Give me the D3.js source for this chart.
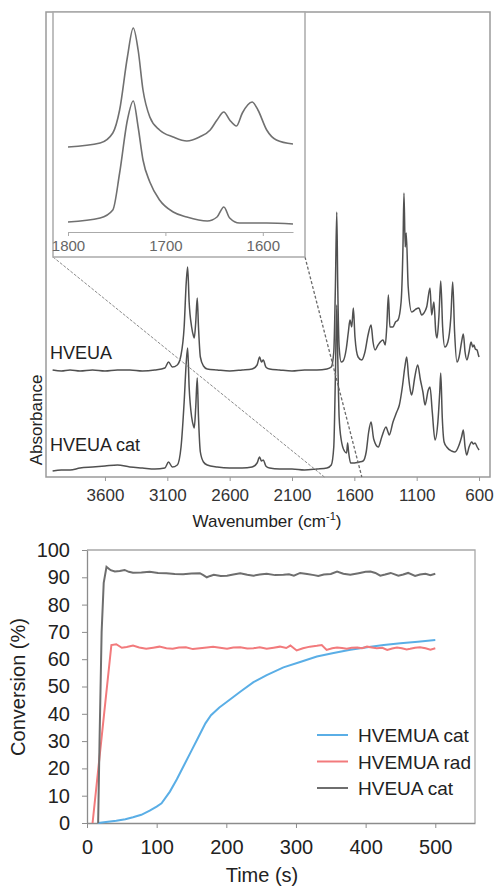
<!DOCTYPE html>
<html>
<head>
<meta charset="utf-8">
<script src="https://cdn.jsdelivr.net/npm/d3@7"></script>
<style>
  body { margin: 0; background: #fff; }
  svg { display: block; font-family: "Liberation Sans", Arial, sans-serif; }
</style>
</head>
<body>
<div id="chart"></div>
<script>
// ---- IR spectra (wavenumber cm-1, absorbance a.u.) ----
const hveua = [[4020,1.07],[3950,1.06],[3880,1.07],[3800,1.06],[3700,1.07],[3600,1.06],[3500,1.07],[3400,1.07],
  [3300,1.06],[3200,1.07],[3120,1.09],[3090,1.15],[3060,1.10],[3020,1.12],[2990,1.22],[2965,1.5],[2948,1.95],
  [2937,2.10],[2925,1.75],[2905,1.5],[2890,1.41],[2884,1.39],[2872,1.55],[2860,1.79],[2850,1.5],[2835,1.2],
  [2810,1.11],[2780,1.08],[2700,1.07],[2600,1.06],[2500,1.07],[2420,1.08],[2380,1.12],[2360,1.20],[2345,1.15],
  [2330,1.17],[2310,1.10],[2280,1.08],[2200,1.07],[2100,1.06],[2000,1.07],[1900,1.07],[1820,1.08],[1785,1.10],
  [1765,1.25],[1752,1.9],[1741,2.65],[1733,1.9],[1722,1.3],[1705,1.15],[1690,1.16],[1665,1.28],[1648,1.45],
  [1635,1.57],[1621,1.50],[1608,1.69],[1595,1.4],[1570,1.2],[1541,1.17],[1515,1.25],[1490,1.42],[1466,1.52],
  [1450,1.35],[1434,1.27],[1410,1.32],[1370,1.37],[1352,1.32],[1340,1.5],[1327,1.82],[1315,1.5],[1290,1.50],
  [1270,1.55],[1250,1.57],[1225,1.75],[1210,2.3],[1202,2.84],[1192,2.3],[1184,2.44],[1168,1.9],[1140,1.65],
  [1125,1.66],[1105,1.68],[1083,1.69],[1060,1.62],[1042,1.64],[1020,1.70],[993,1.89],[980,1.62],[962,1.75],
  [947,1.45],[937,1.39],[922,1.6],[907,1.96],[892,1.5],[874,1.30],[850,1.35],[826,1.6],[811,1.95],[796,1.45],
  [777,1.15],[760,1.2],[740,1.35],[726,1.43],[712,1.25],[697,1.17],[680,1.25],[664,1.35],[650,1.3],[640,1.32],
  [630,1.28],[616,1.27],[605,1.22],[600,1.20]];

const hveuaCatIR = [[4020,0.06],[3950,0.07],[3880,0.07],[3800,0.09],[3700,0.10],[3600,0.11],[3500,0.12],
  [3400,0.10],[3300,0.09],[3200,0.08],[3120,0.09],[3090,0.15],[3060,0.10],[3020,0.12],[2990,0.3],[2965,0.75],
  [2948,1.15],[2937,1.29],[2925,0.9],[2905,0.6],[2890,0.51],[2884,0.49],[2872,0.7],[2860,0.99],[2850,0.6],
  [2835,0.25],[2810,0.15],[2780,0.12],[2700,0.10],[2600,0.09],[2500,0.09],[2420,0.10],[2380,0.14],[2360,0.20],
  [2345,0.16],[2330,0.17],[2310,0.11],[2280,0.09],[2200,0.08],[2100,0.08],[2000,0.07],[1900,0.08],[1820,0.09],
  [1785,0.12],[1765,0.3],[1752,1.0],[1741,1.72],[1733,1.2],[1722,0.6],[1705,0.37],[1680,0.26],[1662,0.24],
  [1654,0.34],[1646,0.25],[1630,0.14],[1600,0.14],[1560,0.15],[1530,0.16],[1505,0.25],[1485,0.45],[1466,0.55],
  [1445,0.38],[1408,0.30],[1380,0.40],[1346,0.50],[1330,0.45],[1320,0.42],[1290,0.55],[1260,0.65],[1239,0.72],
  [1215,0.9],[1195,1.1],[1180,1.20],[1165,1.0],[1150,0.86],[1140,0.82],[1115,1.0],[1092,1.12],[1070,0.97],
  [1050,0.85],[1033,0.72],[1007,0.87],[993,0.90],[975,0.65],[953,0.37],[930,0.55],[915,0.85],[907,1.04],
  [895,0.6],[880,0.35],[859,0.30],[820,0.26],[793,0.25],[760,0.32],[740,0.40],[726,0.47],[712,0.3],[699,0.22],
  [680,0.30],[659,0.35],[645,0.33],[632,0.34],[615,0.30],[600,0.27]];

// inset, 1800-1570 cm-1
const insetTop = [[1800,0.85],[1767,0.89],[1754,0.99],[1747,1.22],[1739,1.75],[1733,2.04],[1728,1.82],
  [1723,1.42],[1716,1.15],[1706,1.02],[1692,0.95],[1678,0.91],[1665,0.95],[1654,1.02],[1647,1.12],[1640,1.20],
  [1634,1.12],[1627,1.06],[1621,1.19],[1611,1.30],[1605,1.22],[1596,1.02],[1586,0.92],[1569,0.88]];
const insetBottom = [[1800,0.10],[1767,0.14],[1754,0.22],[1747,0.59],[1739,1.12],[1733,1.31],[1728,1.05],
  [1723,0.72],[1716,0.50],[1706,0.32],[1692,0.20],[1678,0.15],[1657,0.11],[1647,0.15],[1640,0.25],[1634,0.14],
  [1624,0.09],[1596,0.09],[1569,0.08]];

const irTicks = [3600, 3100, 2600, 2100, 1600, 1100, 600];
const insetTicks = [1800, 1700, 1600];
const zoomEdges = [1840, 1540];   // where the inset connectors meet the main axis

// ---- conversion vs time (s, %) ----
const hvemuaCat = [[16,0],[30,0.5],[42,0.8],[55,1.4],[66,2.1],[78,3.0],[90,4.5],[100,6.0],[107,7.2],[119,11.5],
  [129,16.0],[140,21.5],[150,26.5],[160,31.5],[170,36.5],[178,39.5],[190,42.3],[201,44.4],[220,48.1],[239,51.6],
  [258,54.2],[282,57.0],[306,59.0],[330,61.0],[354,62.3],[378,63.5],[402,64.4],[426,65.2],[450,65.8],[475,66.4],[500,67.0]];
const hvemuaRad = [[8,0],[35,65.2],[42,65.5],[50,64.2],[57,64.5],[66,65.0],[75,64.3],[85,63.8],[95,64.2],[104,64.6],
  [114,64.0],[123,63.8],[132,64.3],[142,64.4],[152,63.7],[162,64.0],[172,64.3],[181,64.6],[191,64.2],[201,63.8],
  [210,64.3],[220,64.4],[230,63.9],[239,64.0],[248,64.4],[258,63.8],[268,64.2],[277,64.6],[286,64.1],[292,65.0],
  [301,63.2],[310,64.0],[320,64.6],[330,64.9],[337,65.2],[344,63.4],[352,64.0],[359,64.3],[366,64.1],[373,63.8],
  [380,64.2],[388,64.3],[395,64.0],[402,64.6],[409,64.3],[416,64.0],[424,64.2],[431,63.4],[438,63.9],[445,64.3],
  [452,64.0],[459,63.6],[464,63.8],[471,64.2],[478,64.4],[486,64.0],[493,63.5],[500,64.0]];
const hveuaCat = [[16,0],[18,30],[21,70],[24,88],[28,93.8],[34,92.6],[40,92.1],[47,92.3],[54,92.7],[60,92.0],
  [66,91.7],[78,91.8],[90,92.0],[102,91.6],[114,91.5],[126,91.2],[138,91.1],[150,91.4],[162,91.5],[167,90.8],
  [172,90.0],[177,90.5],[182,90.9],[192,90.5],[201,90.6],[210,91.0],[220,91.5],[230,90.9],[239,90.6],[248,91.0],
  [258,91.3],[270,90.8],[282,90.9],[290,91.1],[297,90.6],[306,91.6],[316,91.2],[326,90.8],[332,90.5],[340,91.0],
  [350,91.2],[359,92.1],[368,91.3],[378,90.9],[390,91.5],[400,92.0],[407,92.1],[414,91.6],[421,90.6],[428,91.0],
  [436,91.6],[447,90.6],[454,91.0],[461,91.6],[471,90.5],[478,91.0],[486,91.3],[493,90.8],[500,91.3]];

const timeTicks = [0, 100, 200, 300, 400, 500];
const convTicks = [0, 10, 20, 30, 40, 50, 60, 70, 80, 90, 100];
const legendNames = ["HVEMUA cat", "HVEMUA rad", "HVEUA cat"];
const seriesColors = ["#5aaee6", "#f27a7c", "#6e6e6e"];

const svgWidth = 497, svgHeight = 887;
const svg = d3.select("#chart").append("svg")
  .attr("width", svgWidth)
  .attr("height", svgHeight);

const plain = d3.format("d");

// ================= top: IR spectrum =================
const irBox = {left: 46, right: 490, top: 12, bottom: 477};
const x = d3.scaleLinear().domain([4073, 512]).range([irBox.left, irBox.right]);
const y = d3.scaleLinear().domain([0, 4.65]).range([irBox.bottom, irBox.top]);

svg.append("rect")
  .attr("x", irBox.left).attr("y", irBox.top)
  .attr("width", irBox.right - irBox.left).attr("height", irBox.bottom - irBox.top)
  .attr("fill", "none").attr("stroke", "#9a9a9a").attr("stroke-width", 1.5);

const irAxis = svg.append("g")
  .attr("transform", `translate(0,${irBox.bottom})`)
  .call(d3.axisBottom(x).tickValues(irTicks).tickFormat(plain).tickSize(4).tickPadding(8).tickSizeOuter(0));
irAxis.select(".domain").remove();
irAxis.selectAll("line").attr("stroke", "#999");
irAxis.selectAll("text").attr("font-size", 17).attr("fill", "#333")
  .attr("font-family", "Liberation Sans, Arial, sans-serif");

const irLine = d3.line()
  .x(d => x(d[0]))
  .y(d => y(d[1]))
  .curve(d3.curveMonotoneX);

[hveua, hveuaCatIR].forEach(s => {
  svg.append("path")
    .attr("d", irLine(s))
    .attr("fill", "none")
    .attr("stroke", "#505050")
    .attr("stroke-width", 1.5);
});

svg.append("text").attr("x", 50).attr("y", 359)
  .attr("font-size", 18).attr("fill", "#222").text("HVEUA");
svg.append("text").attr("x", 50).attr("y", 451)
  .attr("font-size", 18).attr("fill", "#222").text("HVEUA cat");

svg.append("text")
  .attr("transform", "translate(42,420) rotate(-90)")
  .attr("text-anchor", "middle")
  .attr("font-size", 17).attr("fill", "#222")
  .text("Absorbance");

const wn = svg.append("text")
  .attr("x", 267).attr("y", 527)
  .attr("text-anchor", "middle")
  .attr("font-size", 17).attr("fill", "#222");
wn.append("tspan").text("Wavenumber (cm");
wn.append("tspan").attr("font-size", 11).attr("dy", -7).text("-1");
wn.append("tspan").attr("dy", 7).text(")");

// inset
const inset = {left: 53, right: 305, top: 12, bottom: 257};
const xi = d3.scaleLinear().domain([1800, 1569]).range([68, 293]);
const yi = d3.scaleLinear().domain([0, 2.2]).range([232, 12]);

// connectors from inset corners to the main axis
svg.append("line")
  .attr("x1", inset.left).attr("y1", inset.bottom)
  .attr("x2", x(zoomEdges[0])).attr("y2", irBox.bottom)
  .attr("stroke", "#8a8a8a").attr("stroke-width", 1).attr("stroke-dasharray", "3,1.5");
svg.append("line")
  .attr("x1", inset.right).attr("y1", inset.bottom)
  .attr("x2", x(zoomEdges[1])).attr("y2", irBox.bottom)
  .attr("stroke", "#6a6a6a").attr("stroke-width", 1.3).attr("stroke-dasharray", "3,2");

svg.append("rect")
  .attr("x", inset.left).attr("y", inset.top)
  .attr("width", inset.right - inset.left).attr("height", inset.bottom - inset.top)
  .attr("fill", "#fff").attr("stroke", "#aaa").attr("stroke-width", 1.5);

const insetAxis = svg.append("g")
  .attr("transform", "translate(0,232)")
  .call(d3.axisBottom(xi).tickValues(insetTicks).tickFormat(plain).tickSize(4).tickPadding(4).tickSizeOuter(0));
insetAxis.select(".domain").attr("stroke", "#aaa").attr("stroke-width", 1.2);
insetAxis.selectAll("line").attr("stroke", "#aaa");
insetAxis.selectAll("text").attr("font-size", 15).attr("fill", "#666")
  .attr("font-family", "Liberation Sans, Arial, sans-serif");

const insetLine = d3.line()
  .x(d => xi(d[0]))
  .y(d => yi(d[1]))
  .curve(d3.curveMonotoneX);
[insetTop, insetBottom].forEach(s => {
  svg.append("path")
    .attr("d", insetLine(s))
    .attr("fill", "none")
    .attr("stroke", "#707070")
    .attr("stroke-width", 1.6);
});

// ================= bottom: conversion =================
const convBox = {left: 87, right: 475, top: 550, bottom: 823};
const xt = d3.scaleLinear().domain([0, 557]).range([convBox.left, convBox.right]);
const yc = d3.scaleLinear().domain([0, 100]).range([convBox.bottom, convBox.top]);

svg.append("path")
  .attr("d", `M${convBox.left},${convBox.top}H${convBox.right}V${convBox.bottom}`)
  .attr("fill", "none").attr("stroke", "#a8a8a8").attr("stroke-width", 1.3);

const xAxis = svg.append("g")
  .attr("transform", `translate(0,${convBox.bottom})`)
  .call(d3.axisBottom(xt).tickValues(timeTicks).tickSize(5).tickPadding(12).tickSizeOuter(0));
const yAxis = svg.append("g")
  .attr("transform", `translate(${convBox.left},0)`)
  .call(d3.axisLeft(yc).tickValues(convTicks).tickSize(5).tickPadding(12).tickSizeOuter(0));
[xAxis, yAxis].forEach(g => {
  g.select(".domain").attr("stroke", "#8c8c8c").attr("stroke-width", 1.3);
  g.selectAll("line").attr("stroke", "#8c8c8c");
  g.selectAll("text").attr("font-size", 20).attr("fill", "#222")
    .attr("font-family", "Liberation Sans, Arial, sans-serif");
});

const convLine = d3.line()
  .x(d => xt(d[0]))
  .y(d => yc(d[1]));

[hvemuaCat, hvemuaRad, hveuaCat].forEach((s, i) => {
  svg.append("path")
    .attr("d", convLine(s))
    .attr("fill", "none")
    .attr("stroke", seriesColors[i])
    .attr("stroke-width", 2);
});

svg.append("text")
  .attr("x", 262).attr("y", 882)
  .attr("text-anchor", "middle")
  .attr("font-size", 20).attr("fill", "#222")
  .text("Time (s)");
svg.append("text")
  .attr("transform", "translate(25,687) rotate(-90)")
  .attr("text-anchor", "middle")
  .attr("font-size", 20).attr("fill", "#222")
  .text("Conversion (%)");

// legend
const legend = svg.append("g").attr("transform", "translate(317,735)");
legendNames.forEach((name, i) => {
  const row = legend.append("g").attr("transform", `translate(0,${i * 26.5})`);
  row.append("line").attr("x1", 0).attr("x2", 31).attr("y1", 0).attr("y2", 0)
    .attr("stroke", seriesColors[i]).attr("stroke-width", 2);
  row.append("text").attr("x", 41).attr("y", 7)
    .attr("font-size", 19).attr("fill", "#222").text(name);
});
</script>
</body>
</html>
